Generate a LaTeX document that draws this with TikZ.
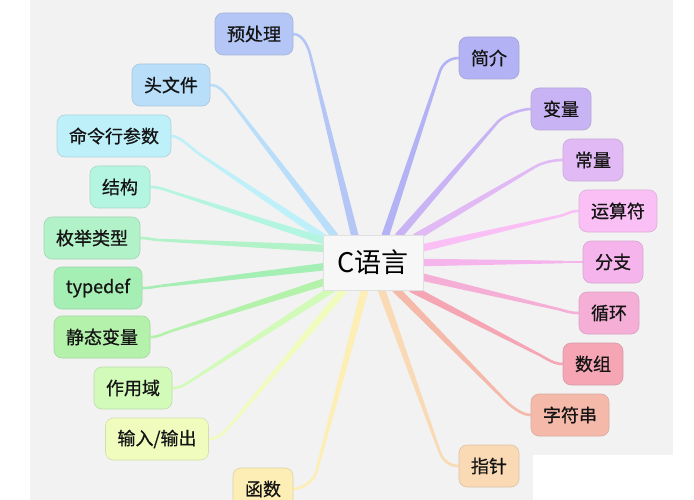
\documentclass[tikz,border=0pt]{standalone}
\usepackage{fontspec}
\setmainfont{Noto Sans CJK SC}
\newfontfamily\mmfont{Noto Sans CJK SC}[FakeBold=0.7]
\usetikzlibrary{calc}
\pgfdeclarelayer{back}
\pgfsetlayers{back,main}
\definecolor{bgc}{RGB}{242,242,242}
\definecolor{preF}{RGB}{180,198,246}
\definecolor{hdrF}{RGB}{184,222,250}
\definecolor{cmdF}{RGB}{190,240,250}
\definecolor{strF}{RGB}{180,245,225}
\definecolor{enumF}{RGB}{178,242,200}
\definecolor{tdefF}{RGB}{165,238,180}
\definecolor{statF}{RGB}{180,242,172}
\definecolor{scopeF}{RGB}{210,250,185}
\definecolor{ioF}{RGB}{240,252,190}
\definecolor{funF}{RGB}{252,238,180}
\definecolor{introF}{RGB}{178,178,245}
\definecolor{varF}{RGB}{200,180,245}
\definecolor{constF}{RGB}{225,185,245}
\definecolor{opF}{RGB}{250,192,245}
\definecolor{brF}{RGB}{245,180,235}
\definecolor{loopF}{RGB}{245,175,215}
\definecolor{arrF}{RGB}{245,165,180}
\definecolor{strgF}{RGB}{245,185,170}
\definecolor{ptrF}{RGB}{250,218,180}
\newcommand\mmbranch[5]{%
  \coordinate (S) at ($(c)+(#2)$);
  \coordinate (B) at ($(#3)+(#4)$);
  \fill[#1] ($(S)!3.8pt!90:(B)$) -- ($(B)!1.3pt!-90:(S)$) -- ($(B)!1.3pt!90:(S)$) -- ($(S)!3.8pt!-90:(B)$) -- cycle;
  \draw[#1, line width=2.6pt] (B) .. controls ($(B)!-9pt!(S)$) and ($(#3)+(#5)$) .. (#3);
}
\tikzset{
  box/.style={draw=#1!75!gray, fill=#1, rounded corners=8pt, line width=0.6pt,
    minimum height=42pt, inner xsep=12pt, inner ysep=0pt,
    font=\mmfont\fontsize{18}{20}\selectfont, text=black!92},
  hub/.style={draw=black!12, fill=black!3, minimum width=100pt, minimum height=55pt,
    font=\fontsize{27}{30}\selectfont, text=black}
}
\begin{document}
\begin{tikzpicture}[x=1pt,y=-1pt]
\useasboundingbox (0,0) rectangle (694,500);
\clip (0,0) rectangle (694,500);
\begin{pgfonlayer}{back}
\fill[white] (0,0) rectangle (694,500);
\fill[bgc] (30,0) rectangle (673,500);
\fill[white] (533,455) rectangle (694,500);
\end{pgfonlayer}
\node[hub] (c) at (373,262.5) {C语言};
\node[box=preF] (pre) at (254,34) {预处理};
\node[box=hdrF] (hdr) at (171,85) {头文件};
\node[box=cmdF] (cmd) at (114,136) {命令行参数};
\node[box=strF] (str) at (120,187) {结构};
\node[box=enumF] (enum) at (92,238) {枚举类型};
\node[box=tdefF] (tdef) at (98,288) {typedef};
\node[box=statF] (stat) at (102,337) {静态变量};
\node[box=scopeF] (scope) at (133,388) {作用域};
\node[box=ioF] (io) at (157,439) {输入/输出};
\node[box=funF] (fun) at (263,489) {函数};
\node[box=introF] (intro) at (489,58) {简介};
\node[box=varF] (var) at (561,109) {变量};
\node[box=constF] (const) at (593,160) {常量};
\node[box=opF] (op) at (618,211) {运算符};
\node[box=brF] (br) at (613,262) {分支};
\node[box=loopF] (loop) at (609,313) {循环};
\node[box=arrF] (arr) at (593,364) {数组};
\node[box=strgF] (strg) at (570,415) {字符串};
\node[box=ptrF] (ptr) at (489,466) {指针};
\begin{pgfonlayer}{back}
\mmbranch{preF}{-18,-26}{pre.east}{17,21}{9,0}
\mmbranch{hdrF}{-38,-26}{hdr.east}{20,15}{9,0}
\mmbranch{cmdF}{-45,-22}{cmd.east}{28,18}{9,0}
\mmbranch{strF}{-47,-21}{str.east}{25,6}{9,0}
\mmbranch{enumF}{-47,-14}{enum.east}{19,2}{9,0}
\mmbranch{tdefF}{-47,4}{tdef.east}{18,-2}{9,0}
\mmbranch{statF}{-47,19}{stat.east}{21,-6}{9,0}
\mmbranch{scopeF}{-40,26}{scope.east}{23,-10}{9,0}
\mmbranch{ioF}{-28,26}{io.east}{22,-14}{9,0}
\mmbranch{funF}{-8,26}{fun.east}{23,-17}{9,0}
\mmbranch{introF}{12,-26}{intro.west}{-19,14}{-9,0}
\mmbranch{varF}{25,-26}{var.west}{-33,13}{-9,0}
\mmbranch{constF}{42,-25}{const.west}{-28,7}{-9,0}
\mmbranch{opF}{47,-14}{op.west}{-19,5}{-9,0}
\mmbranch{brF}{47,0}{br.west}{-19,0}{-9,0}
\mmbranch{loopF}{47,14}{loop.west}{-21,-4}{-9,0}
\mmbranch{arrF}{38,26}{arr.west}{-23,-9}{-9,0}
\mmbranch{strgF}{22,26}{strg.west}{-26,-15}{-9,0}
\mmbranch{ptrF}{8,26}{ptr.west}{-19,-14}{-9,0}
\end{pgfonlayer}
\end{tikzpicture}
\end{document}
